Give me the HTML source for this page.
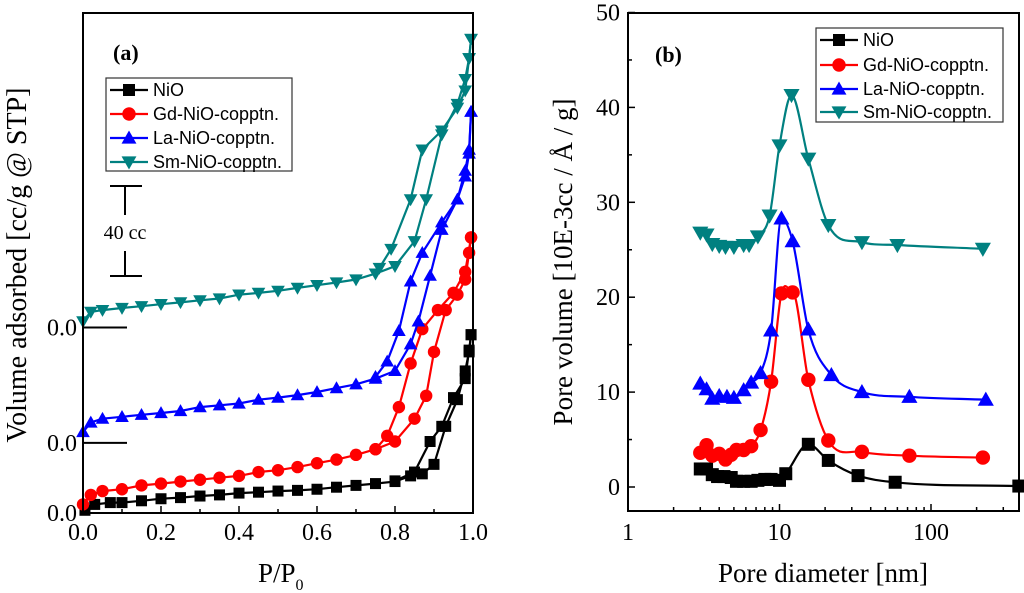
<!DOCTYPE html>
<html><head><meta charset="utf-8"><style>
html,body{margin:0;padding:0;background:#fff;}
svg{display:block;font-family:"Liberation Serif",serif;}
.sans{font-family:"Liberation Sans",sans-serif;}
</style></head><body>
<svg id="c" width="1024" height="593" viewBox="0 0 1024 593" xmlns="http://www.w3.org/2000/svg"></svg>
<script>
// ---------- Panel (a) data: isotherms (cc/g incl. offsets) ----------
const aNames = ["NiO","Gd-NiO-copptn.","La-NiO-copptn.","Sm-NiO-copptn."];
const aColors = ["#000000","#ff0000","#0000ff","#008080"];
const aMarkers = ["square","circle","tri-up","tri-down"];
const nioAdsP = [0.005,0.03,0.07,0.1,0.15,0.2,0.25,0.3,0.35,0.4,0.45,0.5,0.55,0.6,0.65,0.7,0.75,0.8,0.84,0.87,0.9,0.93,0.96,0.98,0.99,0.995];
const nioAdsV = [1.2,3.8,4.6,4.6,5.4,6.3,6.8,7.5,8,8.8,9.2,9.7,10,10.5,11.4,12.2,13,13.9,16.4,17.3,21.5,38.3,50.1,62.8,71.2,78.8];
const nioDesP = [0.995,0.99,0.98,0.95,0.92,0.89,0.85,0.8];
const nioDesV = [78.8,72,59.4,51,38.3,31.6,18.1,14.2];
const gdAdsP = [0.0,0.02,0.05,0.1,0.15,0.2,0.25,0.3,0.35,0.4,0.45,0.5,0.55,0.6,0.65,0.7,0.75,0.8,0.85,0.88,0.9,0.93,0.96,0.98,0.99,0.995];
const gdAdsV = [3.8,8,9.7,10.5,12.2,13,13.9,14.7,15.6,16.4,18.1,18.9,20.3,22,23.6,25.7,28.2,31.6,41.7,51.8,71.2,89.7,96.5,103.2,115,121.8];
const gdDesP = [0.995,0.98,0.95,0.91,0.87,0.84,0.81,0.78,0.75];
const gdDesV = [121.8,106.6,97.3,89.7,81.3,66.1,46.8,34.1,28.2];
const laAdsP = [0.0,0.02,0.05,0.1,0.15,0.2,0.25,0.3,0.35,0.4,0.45,0.5,0.55,0.6,0.65,0.7,0.75,0.8,0.84,0.86,0.89,0.92,0.96,0.98,0.99,0.995];
const laAdsV = [35.8,40,41.7,42.5,43.4,44.2,45.1,46.8,47.6,48.4,50.1,51,52.1,53.5,55.2,56.9,59.4,62.8,74.6,84.7,104.9,125.2,138.6,148.8,158.9,177.4];
const laDesP = [0.995,0.99,0.98,0.96,0.92,0.87,0.84,0.81,0.78,0.75];
const laDesV = [177.4,160.6,151.3,138.6,128.5,115,102.4,80.5,67,60.2];
const smAdsP = [0.0,0.02,0.05,0.1,0.15,0.2,0.25,0.3,0.35,0.4,0.45,0.5,0.55,0.6,0.65,0.7,0.75,0.8,0.85,0.88,0.92,0.96,0.98,0.99,0.995];
const smAdsV = [84.7,88.9,89.7,90.6,91.4,92.3,93.1,94,94.8,96.5,97.3,98.2,99.5,100.7,101.9,103.2,105.8,109.1,120.1,138.6,167.3,180.8,191.8,201,209.5];
const smDesP = [0.995,0.99,0.98,0.96,0.92,0.87,0.84,0.79,0.76];
const smDesV = [209.5,201,186.7,179.1,169,160.6,138.6,116.7,108.3];
const aXTicks = [0.0,0.2,0.4,0.6,0.8,1.0];
const aXTickLabels = ["0.0","0.2","0.4","0.6","0.8","1.0"];
const aZeroLevels = [0,31,82];
// ---------- Panel (b) data: pore size distributions ----------
const nioD = [3.0,3.3,3.6,3.9,4.3,4.8,5.2,5.8,6.5,7.2,8.0,8.8,10,11,15.5,21,33,58,380];
const nioPV = [1.9,1.9,1.3,1.1,1.1,1.0,0.6,0.6,0.6,0.7,0.8,0.8,0.7,1.4,4.5,2.8,1.2,0.5,0.1];
const gdD = [3.0,3.3,3.6,4.0,4.4,4.8,5.2,5.8,6.5,7.5,8.8,10.3,12.2,15.5,21,35,72,220];
const gdPV = [3.6,4.4,3.3,3.5,2.9,3.4,3.9,3.9,4.3,6.0,11.1,20.4,20.5,11.3,4.9,3.7,3.3,3.1];
const laD = [3.0,3.3,3.6,4.0,4.5,5.0,5.8,6.5,7.5,8.8,10.3,12.2,15.5,22,35,72,230];
const laPV = [10.9,10.3,9.3,9.6,9.5,9.4,10.2,11.0,12.0,16.5,28.3,25.9,16.6,11.8,10.0,9.5,9.2];
const smD = [3.0,3.3,3.6,4.0,4.4,5.0,5.8,6.3,7.2,8.6,10,12,15.5,21,35,60,220];
const smPV = [26.8,26.6,25.6,25.4,25.3,25.3,25.5,25.5,26.4,28.6,36.0,41.3,34.6,27.6,25.8,25.5,25.1];
const bYTicks = [0,10,20,30,40,50];
const bXTicks = [1,10,100];

const NS="http://www.w3.org/2000/svg";
const svg=document.getElementById('c');
function mk(tag,attrs,parent){const e=document.createElementNS(NS,tag);for(const k in attrs)e.setAttribute(k,attrs[k]);(parent||svg).appendChild(e);return e;}

const aL=83,aR=473,aT=13,aB=513,aYmax=221;
const ax=p=>aL+(aR-aL)*p;
const ay=v=>aB-(aB-aT)*v/aYmax;
const bL=628,bR=1019,bT=13,bB=511,bZero=487,bPx=9.49;
const bx=d=>bL+151.5*Math.log10(d);
const by=v=>bZero-bPx*v;

function marker(type,x,y,s,color,parent){
  let e;
  if(type==="square"){e=mk('rect',{x:x-s/2,y:y-s/2,width:s,height:s,fill:color},parent);}
  else if(type==="circle"){e=mk('circle',{cx:x,cy:y,r:s/2+0.7,fill:color},parent);}
  else if(type==="tri-up"){const h=s*0.62;e=mk('polygon',{points:`${x},${y-h} ${x-s*0.62},${y+h*0.75} ${x+s*0.62},${y+h*0.75}`,fill:color},parent);}
  else {const h=s*0.62;e=mk('polygon',{points:`${x},${y+h} ${x-s*0.62},${y-h*0.75} ${x+s*0.62},${y-h*0.75}`,fill:color},parent);}
  return e;
}

// ===== Panel (a) =====
const gA=mk('g',{});


const aSeries=[[nioAdsP,nioAdsV,nioDesP,nioDesV],[gdAdsP,gdAdsV,gdDesP,gdDesV],[laAdsP,laAdsV,laDesP,laDesV],[smAdsP,smAdsV,smDesP,smDesV]];
aSeries.forEach((s,i)=>{
  const g=mk('g',{},gA);
  
  
  for(let k=0;k<2;k++){
    const P=s[k*2],V=s[k*2+1];
    const pts=P.map((p,j)=>ax(p).toFixed(1)+','+ay(V[j]).toFixed(1)).join(' ');
    const pl=mk('polyline',{points:pts,fill:'none',stroke:aColors[i],'stroke-width':2.2},g);
    
    
    P.forEach((p,j)=>{const m=marker(aMarkers[i],ax(p),ay(V[j]),11,aColors[i],g);
      
      });
  }
});
const fa=mk('rect',{x:aL,y:aT,width:aR-aL,height:aB-aT,fill:'none',stroke:'#000','stroke-width':2},gA);


for(let t=0;t<=10;t++){const x=ax(t/10);mk('line',{x1:x,y1:aB,x2:x,y2:aB-(t%2?4:7),stroke:'#000','stroke-width':1.5},gA);}
aXTicks.forEach((t,i)=>{const tx=mk('text',{x:ax(t),y:aB+27,'text-anchor':'middle','font-size':24},gA);tx.textContent=aXTickLabels[i];
  
  });
aZeroLevels.forEach((z,i)=>{const y=ay(z);
  if(i>0)mk('line',{x1:aL,y1:y,x2:aL+44,y2:y,stroke:'#000','stroke-width':2},gA);
  const tx=mk('text',{x:aL-6,y:y+8,'text-anchor':'end','font-size':24},gA);tx.textContent='0.0';
  
  });
const sb=mk('g',{},gA);


mk('line',{x1:110,y1:186,x2:142,y2:186,stroke:'#000','stroke-width':2},sb);
mk('line',{x1:125,y1:186,x2:125,y2:215,stroke:'#000','stroke-width':2},sb);
mk('line',{x1:125,y1:251,x2:125,y2:276,stroke:'#000','stroke-width':2},sb);
mk('line',{x1:110,y1:276,x2:142,y2:276,stroke:'#000','stroke-width':2},sb);
const sbt=mk('text',{x:125,y:239,'text-anchor':'middle','font-size':20},sb);sbt.textContent='40 cc';
const pa=mk('text',{x:113,y:60,'font-size':22,'font-weight':'bold'},gA);pa.textContent='(a)';


const xta=mk('text',{x:258,y:582,'font-size':27},gA);xta.innerHTML='P/P<tspan font-size="16" dy="8">0</tspan>';


const yta=mk('text',{x:0,y:0,'text-anchor':'middle','font-size':28,transform:'translate(26,265) rotate(-90)'},gA);yta.textContent='Volume adsorbed [cc/g @ STP]';



function legend(x0,y0,w,h,ys,parent,name){
  const g=mk('g',{},parent);
  
  
  mk('rect',{x:x0,y:y0,width:w,height:h,fill:'#fff',stroke:'#333','stroke-width':1.2},g);
  aNames.forEach((n,i)=>{const y=ys[i];
    const e=mk('g',{},g);
    
    
    mk('line',{x1:x0+4,y1:y,x2:x0+42,y2:y,stroke:aColors[i],'stroke-width':2.2},e);
    marker(aMarkers[i],x0+23,y,12,aColors[i],e);
    const t=mk('text',{x:x0+47,y:y+6,'font-size':18,class:'sans'},e);t.textContent=n;});
}
legend(106,78,186,93,[90,114,138,162],gA,'legend-a');

// ===== Panel (b) =====
const gB=mk('g',{});


function monoPath(pts){
  const n=pts.length,dx=[],m=[],t=[];
  for(let i=0;i<n-1;i++){dx[i]=pts[i+1][0]-pts[i][0];m[i]=(pts[i+1][1]-pts[i][1])/dx[i];}
  t[0]=m[0];t[n-1]=m[n-2];
  for(let i=1;i<n-1;i++){t[i]=(m[i-1]*m[i]<=0)?0:(m[i-1]+m[i])/2;}
  let d=`M${pts[0][0].toFixed(1)},${pts[0][1].toFixed(1)}`;
  for(let i=0;i<n-1;i++){const h=dx[i]/3;
    d+=` C${(pts[i][0]+h).toFixed(1)},${(pts[i][1]+t[i]*h).toFixed(1)} ${(pts[i+1][0]-h).toFixed(1)},${(pts[i+1][1]-t[i+1]*h).toFixed(1)} ${pts[i+1][0].toFixed(1)},${pts[i+1][1].toFixed(1)}`;}
  return d;
}
const bSeries=[[nioD,nioPV],[gdD,gdPV],[laD,laPV],[smD,smPV]];
bSeries.forEach((s,i)=>{
  const g=mk('g',{},gB);
  
  
  const pts=s[0].map((d,j)=>[bx(d),by(s[1][j])]);
  const p=mk('path',{d:monoPath(pts),fill:'none',stroke:aColors[i],'stroke-width':2.2},g);
  
  
  pts.forEach(q=>{const m=marker(aMarkers[i],q[0],q[1],13,aColors[i],g);
    
    });
});
const fb=mk('rect',{x:bL,y:bT,width:bR-bL,height:bB-bT,fill:'none',stroke:'#000','stroke-width':2},gB);


for(let v=0;v<=50;v+=5){const y=by(v);mk('line',{x1:bL,y1:y,x2:bL+(v%10?4:7),y2:y,stroke:'#000','stroke-width':1.5},gB);}
bYTicks.forEach(v=>{const t=mk('text',{x:bL-8,y:by(v)+8,'text-anchor':'end','font-size':24},gB);t.textContent=v;
  
  });
for(let dec=1;dec<=100;dec*=10){for(let m=1;m<10;m++){const x=bx(dec*m);if(x>bR)break;
  mk('line',{x1:x,y1:bB,x2:x,y2:bB-(m===1?7:4),stroke:'#000','stroke-width':1.5},gB);}}
bXTicks.forEach(v=>{const t=mk('text',{x:bx(v),y:bB+29,'text-anchor':'middle','font-size':24},gB);t.textContent=v;
  
  });
const pb=mk('text',{x:655,y:62,'font-size':22,'font-weight':'bold'},gB);pb.textContent='(b)';


const xtb=mk('text',{x:823,y:582,'text-anchor':'middle','font-size':27},gB);xtb.textContent='Pore diameter [nm]';


const ytb=mk('text',{x:0,y:0,'text-anchor':'middle','font-size':27,transform:'translate(572,262) rotate(-90)'},gB);ytb.textContent='Pore volume [10E-3cc / Å / g]';


legend(816,28,187,94,[40,65,89,112],gB,'legend-b');
</script>
</body></html>
